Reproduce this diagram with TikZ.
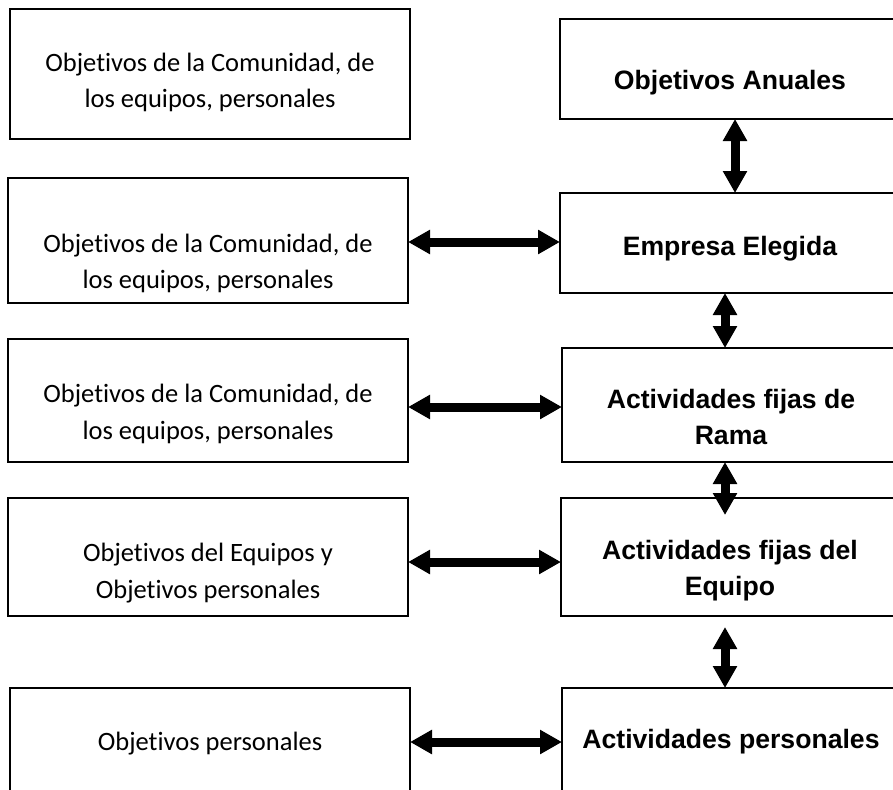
\documentclass[tikz,border=0pt]{standalone}
\usepackage{fontspec}
\setmainfont{Carlito}[Ligatures=NoCommon]
\newfontfamily\arialfont{Liberation Sans}
\usetikzlibrary{arrows.meta}
\begin{document}
\begin{tikzpicture}[x=1pt,y=-1pt,
  box/.style={draw, line width=1.3pt, inner sep=0pt, outer sep=0pt},
  ltext/.style={font=\fontsize{26.5}{37}\selectfont, anchor=base, inner sep=0pt},
  rtext/.style={font=\arialfont\bfseries\fontsize{26.6}{36}\selectfont, anchor=base, inner sep=0pt},
  dbl/.style={line width=9pt, {Triangle[width=23pt,length=22pt]}-{Triangle[width=23pt,length=22pt]}}]
\useasboundingbox (0,0) rectangle (893,789);
\clip (0,0) rectangle (893,789);
% left boxes
\node[box, minimum width=400pt, minimum height=130pt] (L1) at (210,74) {};
\node[box, minimum width=400pt, minimum height=125pt] (L2) at (208,240.5) {};
\node[box, minimum width=400pt, minimum height=123pt] (L3) at (208,400.5) {};
\node[box, minimum width=400pt, minimum height=118pt] (L4) at (208,557) {};
\node[box, minimum width=400pt, minimum height=112pt] (L5) at (210,744) {};
% right boxes
\node[box, minimum width=340pt, minimum height=100pt] (R1) at (730,69) {};
\node[box, minimum width=340pt, minimum height=100pt] (R2) at (730,243) {};
\node[box, minimum width=338pt, minimum height=114pt] (R3) at (731,405) {};
\node[box, minimum width=339pt, minimum height=118pt] (R4) at (730.5,557) {};
\node[box, minimum width=338pt, minimum height=112pt] (R5) at (731,744) {};
% texts
\node[ltext] (L1a) at (210,72) {Objetivos de la Comunidad, de};
\node[ltext] (L1b) at (210,108) {los equipos, personales};
\node[ltext] (L2a) at (208,252) {Objetivos de la Comunidad, de};
\node[ltext] (L2b) at (208,288) {los equipos, personales};
\node[ltext] (L3a) at (208,402) {Objetivos de la Comunidad, de};
\node[ltext] (L3b) at (208,439) {los equipos, personales};
\node[ltext] (L4a) at (208,561) {Objetivos del Equipos y};
\node[ltext] (L4b) at (208,598) {Objetivos personales};
\node[ltext] (L5a) at (210,750) {Objetivos personales};
\node[rtext] (R1a) at (730,90) {Objetivos Anuales};
\node[rtext] (R2a) at (730,255) {Empresa Elegida};
\node[rtext] (R3a) at (731,408) {Actividades fijas de};
\node[rtext] (R3b) at (731,444) {Rama};
\node[rtext] (R4a) at (730,559) {Actividades fijas del};
\node[rtext] (R4b) at (730,595) {Equipo};
\node[rtext] (R5a) at (731,748) {Actividades personales};
% horizontal arrows
\coordinate (h2) at ([yshift=-1.5pt]L2.east);
\coordinate (h3) at ([yshift=-6.5pt]L3.east);
\coordinate (h4) at ([yshift=-5pt]L4.east);
\coordinate (h5) at ([yshift=2pt]L5.east);
\draw[dbl] (h2) -- (h2 -| R2.west);
\draw[dbl] (h3) -- (h3 -| R3.west);
\draw[dbl] (h4) -- (h4 -| R4.west);
\draw[dbl] (h5) -- (h5 -| R5.west);
% vertical arrows
\coordinate (v1) at ([xshift=5pt]R1.south);
\draw[dbl] (v1) -- (v1 |- R2.north);
\coordinate (v2) at ([xshift=-5pt]R2.south);
\draw[dbl] (v2) -- (v2 |- R3.north);
\coordinate (v3) at ([xshift=-6pt]R3.south);
\coordinate (v3e) at ([xshift=-5.5pt,yshift=-17pt]R4.north);
\draw[dbl] (v3) -- (v3 |- v3e);
\coordinate (v4a) at ([xshift=-5.5pt,yshift=-11pt]R4.south);
\draw[dbl] (v4a) -- (v4a |- R5.north);
\end{tikzpicture}
\end{document}
